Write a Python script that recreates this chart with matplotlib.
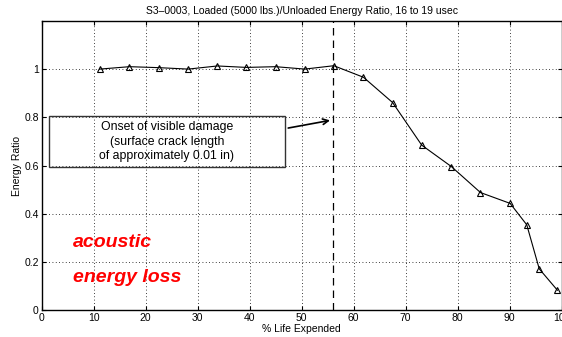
import numpy as np
import matplotlib.pyplot as plt
from matplotlib.patches import Rectangle

plt.rcParams['font.family'] = ['Liberation Sans', 'DejaVu Sans']

# % life expended vs loaded/unloaded energy ratio
life = [11.2, 16.9, 22.5, 28.2, 33.8, 39.4, 45.0, 50.6, 56.2,
        61.9, 67.5, 73.1, 78.8, 84.4, 90.1, 93.3, 95.7, 99.2]
ratio = [1.001, 1.011, 1.007, 1.001, 1.014, 1.008, 1.011, 1.001, 1.015,
         0.967, 0.862, 0.685, 0.596, 0.488, 0.443, 0.354, 0.171, 0.082]

damage_onset = 56.0
x_ticks = [0, 10, 20, 30, 40, 50, 60, 70, 80, 90, 100]
y_ticks = [0, 0.2, 0.4, 0.6, 0.8, 1]

fig = plt.figure(figsize=(5.62, 3.37), dpi=100)
ax = fig.add_axes([41.6 / 562, 27 / 337, 520 / 562, 288.8 / 337])

ax.plot(life, ratio, color='black', linewidth=0.8, marker='^', markersize=5,
        markerfacecolor='none', markeredgecolor='black', markeredgewidth=0.8, zorder=3)
ax.axvline(damage_onset, color='black', linestyle=(0, (6, 4)), linewidth=0.9)

ax.set_xlim(0, 100)
ax.set_ylim(0, 1.2)
ax.set_xticks(x_ticks)
ax.set_yticks(y_ticks)
ax.set_yticklabels(['0', '0.2', '0.4', '0.6', '0.8', '1'])
ax.tick_params(direction='in', length=3, labelsize=7.5, top=True, right=True, pad=2)
ax.grid(True, color='black', linestyle=(0, (1, 3)), linewidth=0.6)
for s in ax.spines.values():
    s.set_linewidth(1.0)

ax.set_title('S3\u20130003, Loaded (5000 lbs.)/Unloaded Energy Ratio, 16 to 19 usec',
             fontsize=7.5, pad=5)
ax.set_xlabel('% Life Expended', fontsize=7.5, labelpad=1)
ax.set_ylabel('Energy Ratio', fontsize=7.5, labelpad=2)

# annotation box with arrow pointing at the dashed line
ax.add_patch(Rectangle((1.4, 0.595), 45.4, 0.212, facecolor='none',
                       edgecolor='#333333', linewidth=1.0, zorder=4))
ax.text(24.1, 0.70, 'Onset of visible damage\n(surface crack length\nof approximately 0.01 in)',
        ha='center', va='center', fontsize=8.8, linespacing=1.25, zorder=5)
ax.annotate('', xy=(damage_onset, 0.79), xytext=(46.9, 0.754),
            arrowprops=dict(arrowstyle='->', color='black', lw=1.2))

ax.text(6.0, 0.263, 'acoustic', color='red', fontsize=14, fontweight='bold',
        fontstyle='italic', va='baseline')
ax.text(6.0, 0.118, 'energy loss', color='red', fontsize=14, fontweight='bold',
        fontstyle='italic', va='baseline')

fig.savefig('out.png', dpi=100)
